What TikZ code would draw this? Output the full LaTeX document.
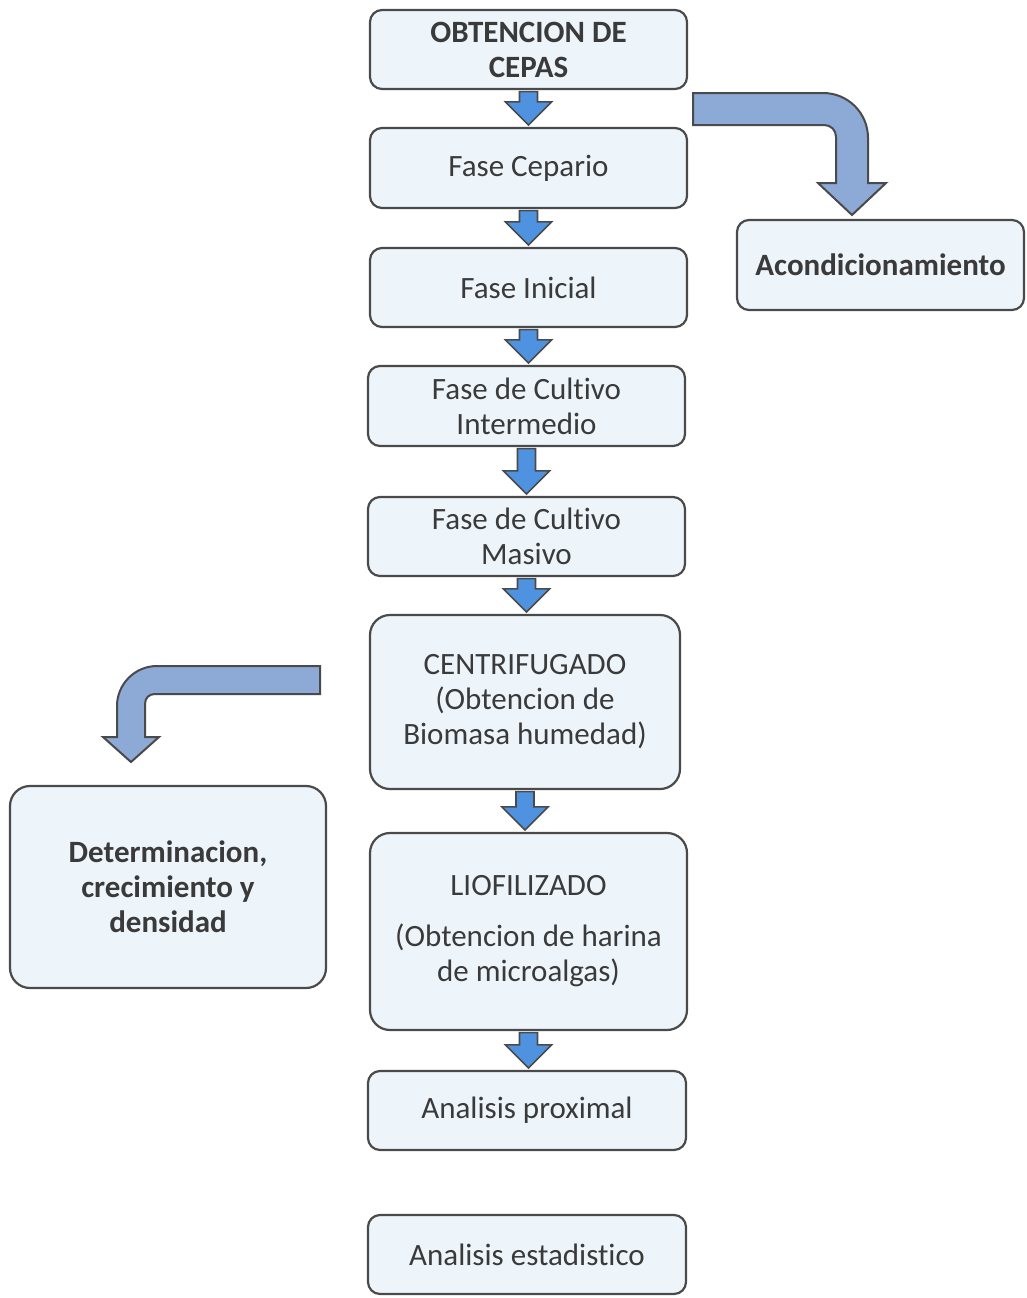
\documentclass[tikz,border=0pt]{standalone}
\usepackage{fontspec}
\setmainfont[Ligatures={NoCommon,NoContextual},RawFeature={-liga;-clig;-calt;-dlig}]{Carlito}
\usetikzlibrary{calc}
\definecolor{boxfill}{HTML}{EDF5FB}
\definecolor{boxline}{HTML}{4A4A4A}
\definecolor{txt}{HTML}{3A3A3A}
\definecolor{smallblue}{HTML}{4F93E0}
\definecolor{bigblue}{HTML}{8DA9D6}
\tikzset{
  stepbox/.style={draw=boxline, line width=2.2pt, fill=boxfill, rounded corners=12pt,
    text=txt, align=center, inner sep=0pt, font=\fontsize{31}{35}\selectfont},
  smallarr/.style={draw=boxline, line width=1.6pt, fill=smallblue, line join=miter},
  bigarr/.style={draw=boxline, line width=2pt, fill=bigblue, line join=miter},
}
\newcommand\dnarrow[2]{%
  \path let \p1=(#1.south), \p2=(#2.north) in
   [smallarr] (\x1-9pt,\y1-1.5pt) -- (\x1-9pt,\y2+25pt) -- (\x1-23pt,\y2+25pt)
   -- (\x1,\y2+2pt) -- (\x1+23pt,\y2+25pt) -- (\x1+9pt,\y2+25pt)
   -- (\x1+9pt,\y1-1.5pt) -- cycle;}
\begin{document}
\begin{tikzpicture}[x=1pt,y=-1pt]
\useasboundingbox[fill=white] (0,0) rectangle (1026,1298);

\node[stepbox, minimum width=317pt, minimum height=79pt] (cepas) at (528.5,49.5) {\bfseries OBTENCION DE\\\bfseries CEPAS};
\node[stepbox, minimum width=317pt, minimum height=80pt] (cepario) at (528.5,168) {Fase Cepario};
\node[stepbox, minimum width=317pt, minimum height=79pt] (inicial) at (528.5,287.5) {Fase Inicial};
\node[stepbox, minimum width=317pt, minimum height=80pt] (intermedio) at (526.5,406) {Fase de Cultivo\\Intermedio};
\node[stepbox, minimum width=317pt, minimum height=79pt] (masivo) at (526.5,536.5) {Fase de Cultivo\\Masivo};
\node[stepbox, rounded corners=20pt, minimum width=310pt, minimum height=174pt] (centri) at (525,702) {CENTRIFUGADO\\(Obtencion de\\Biomasa humedad)};
\node[stepbox, rounded corners=20pt, minimum width=317pt, minimum height=197pt] (liofi) at (528.5,931.5) {LIOFILIZADO\\[16pt](Obtencion de harina\\de microalgas)};
\node[stepbox, minimum width=318pt, minimum height=79pt] (proximal) at (527,1110.5) {Analisis proximal};
\node[stepbox, minimum width=318pt, minimum height=79pt] (estad) at (527,1254.5) {Analisis estadistico};
\node[stepbox, minimum width=287pt, minimum height=90pt] (acond) at (880.5,265) {\bfseries Acondicionamiento};
\node[stepbox, rounded corners=20pt, minimum width=316pt, minimum height=202pt] (determ) at (168,887) {\bfseries Determinacion,\\\bfseries crecimiento y\\\bfseries densidad};

\dnarrow{cepas}{cepario}
\dnarrow{cepario}{inicial}
\dnarrow{inicial}{intermedio}
\dnarrow{intermedio}{masivo}
\dnarrow{masivo}{centri}
\dnarrow{centri}{liofi}
\dnarrow{liofi}{proximal}

% bent arrow to Acondicionamiento
\draw[bigarr] (693,93) -- (823,93) .. controls (848,93) and (868,113) .. (868,138)
  -- (868,183) -- (886,183) -- (852,215) -- (818,183) -- (836,183) -- (836,137)
  .. controls (836,130) and (831,125) .. (824,125) -- (693,125) -- cycle;

% bent arrow to Determinacion
\draw[bigarr] (320,666) -- (157,666) .. controls (135,666) and (117,684) .. (117,706)
  -- (117,737) -- (103,737) -- (131,762) -- (159,737) -- (145,737) -- (145,704)
  .. controls (145,698) and (149,694) .. (155,694) -- (320,694) -- cycle;
\end{tikzpicture}
\end{document}
